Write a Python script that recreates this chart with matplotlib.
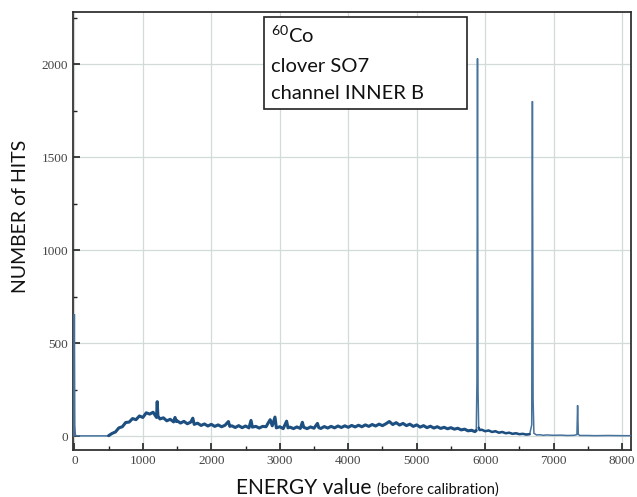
import matplotlib
matplotlib.use("Agg")
import matplotlib.pyplot as plt
from matplotlib.ticker import MultipleLocator
from matplotlib.patches import Rectangle

# ---- data ----
energy_low = [-8, 0, 6, 14, 30, 100, 200, 300, 400, 480]
counts_low = [0, 655, 60, 6, 2, 1, 1, 1, 1, 1]

energy_bg = [500, 550, 600, 650, 700, 750, 800, 850, 900, 950, 1000, 1050, 1100, 1150,
             1200, 1210, 1220, 1250, 1300, 1350, 1400, 1450, 1470, 1490, 1500, 1550, 1600,
             1650, 1700, 1730, 1750, 1800, 1850, 1900, 1950, 2000, 2050, 2100, 2150, 2200,
             2250, 2270, 2300, 2350, 2400, 2450, 2500, 2550, 2580, 2600, 2650, 2700, 2750,
             2800, 2830, 2860, 2890, 2930, 2950, 3000, 3050, 3100, 3120, 3150, 3200, 3250,
             3300, 3330, 3350, 3400, 3450, 3500, 3550, 3570, 3600, 3650, 3700, 3750, 3800,
             3850, 3900, 3950, 4000, 4050, 4100, 4150, 4200, 4250, 4300, 4350, 4400, 4450,
             4500, 4550, 4600, 4650, 4700, 4750, 4800, 4850, 4900, 4950, 5000, 5050, 5100,
             5150, 5200, 5250, 5300, 5350, 5400, 5450, 5500, 5550, 5600, 5650, 5700, 5750,
             5800, 5850, 5870]
counts_bg = [2, 14, 22, 44, 50, 73, 75, 94, 88, 108, 100, 125, 118, 128,
             100, 185, 108, 92, 98, 82, 90, 76, 100, 78, 82, 70, 79,
             66, 75, 96, 63, 69, 57, 65, 54, 63, 52, 60, 50, 58,
             78, 52, 55, 46, 56, 45, 54, 44, 84, 48, 52, 43, 52,
             50, 70, 88, 55, 102, 44, 50, 40, 80, 44, 48, 40, 49,
             41, 74, 47, 40, 49, 42, 68, 45, 41, 51, 43, 52, 44,
             54, 46, 55, 47, 57, 49, 58, 50, 60, 52, 62, 54, 64,
             56, 66, 78, 62, 72, 59, 68, 56, 64, 52, 60, 48, 56,
             45, 53, 43, 50, 41, 47, 39, 45, 37, 42, 33, 37, 28,
             31, 24, 30]

energy_peaks = [5880, 5888, 5896, 5905, 5920, 5950, 6000, 6050, 6100, 6150, 6200, 6250,
                6300, 6350, 6400, 6450, 6500, 6550, 6600, 6650, 6680, 6690, 6700, 6712,
                6750, 6800, 6850, 6900, 7000, 7100, 7200, 7300, 7340, 7350, 7360, 7380,
                7500, 7600, 7800, 8000, 8130]
counts_peaks = [300, 2030, 250, 45, 32, 34, 26, 30, 22, 26, 18, 22,
                15, 18, 12, 15, 10, 12, 8, 10, 60, 1800, 200, 15,
                6, 7, 4, 6, 4, 5, 3, 4, 8, 165, 10, 3,
                3, 2, 3, 2, 2]

x_ticks = [0, 1000, 2000, 3000, 4000, 5000, 6000, 7000, 8000]
y_ticks = [0, 500, 1000, 1500, 2000]

energy = energy_low + energy_bg + energy_peaks
counts = counts_low + counts_bg + counts_peaks

W, H = 637, 497
fig = plt.figure(figsize=(W / 100, H / 100), dpi=100)
ax = fig.add_axes([73 / W, (H - 450) / H, (631 - 73) / W, (450 - 12) / H])

# thin trace for the whole spectrum, thicker band for the noisy continuum
ax.plot(energy, counts, color="#46729c", lw=1.1, solid_joinstyle="miter", zorder=3)
ax.plot(energy_bg, counts_bg, color="#1d4f80", lw=2.2, solid_joinstyle="round",
        solid_capstyle="round", zorder=4)
ax.plot(energy_peaks[3:20], counts_peaks[3:20], color="#1d4f80", lw=1.8,
        solid_capstyle="round", zorder=4)

ax.set_xlim(-20, 8130)
ax.set_ylim(-75, 2280)
ax.set_xticks(x_ticks)
ax.set_yticks(y_ticks)
ax.xaxis.set_minor_locator(MultipleLocator(500))
ax.yaxis.set_minor_locator(MultipleLocator(250))
ax.grid(True, which="major", color="#d2dbda", lw=0.9)
ax.set_axisbelow(True)
ax.tick_params(which="both", direction="in", top=False, right=False,
               labelsize=9.5, labelcolor="#444444", color="#222222")
ax.tick_params(which="major", length=5, width=1.2)
ax.tick_params(which="minor", length=3, width=1.0)
for lab in ax.get_xticklabels() + ax.get_yticklabels():
    lab.set_family("Liberation Serif")
for s in ax.spines.values():
    s.set_color("#333333")
    s.set_linewidth(1.3)

sans = "Lato"
plt.rcParams["mathtext.fontset"] = "custom"
plt.rcParams["mathtext.rm"] = sans

fig.text(21 / W, 1 - 216 / H, "NUMBER of HITS", rotation=90, family=sans,
         fontsize=14, va="center", ha="center", color="#111111")

renderer = fig.canvas.get_renderer()
t1 = fig.text(236 / W, 1 - 494 / H, "ENERGY value ", family=sans, fontsize=15,
              va="baseline", ha="left", color="#111111")
bb = t1.get_window_extent(renderer)
fig.text(bb.x1 / W, 1 - 494 / H, "(before calibration)", family=sans, fontsize=10.5,
         va="baseline", ha="left", color="#111111")

fig.patches.append(Rectangle((264 / W, 1 - 109 / H), (467 - 264) / W, (109 - 17) / H,
                             transform=fig.transFigure, fill=True, facecolor="white",
                             edgecolor="#222222", lw=1.2, zorder=5))
lines = [r"$\mathregular{^{60}}$Co", "clover SO7", "channel INNER B"]
ys = [43, 72, 99]
for s, yy in zip(lines, ys):
    fig.text(271 / W, 1 - yy / H, s, family=sans, fontsize=14.5, va="baseline",
             ha="left", color="#111111", zorder=6)

fig.savefig("out.png", dpi=100)
